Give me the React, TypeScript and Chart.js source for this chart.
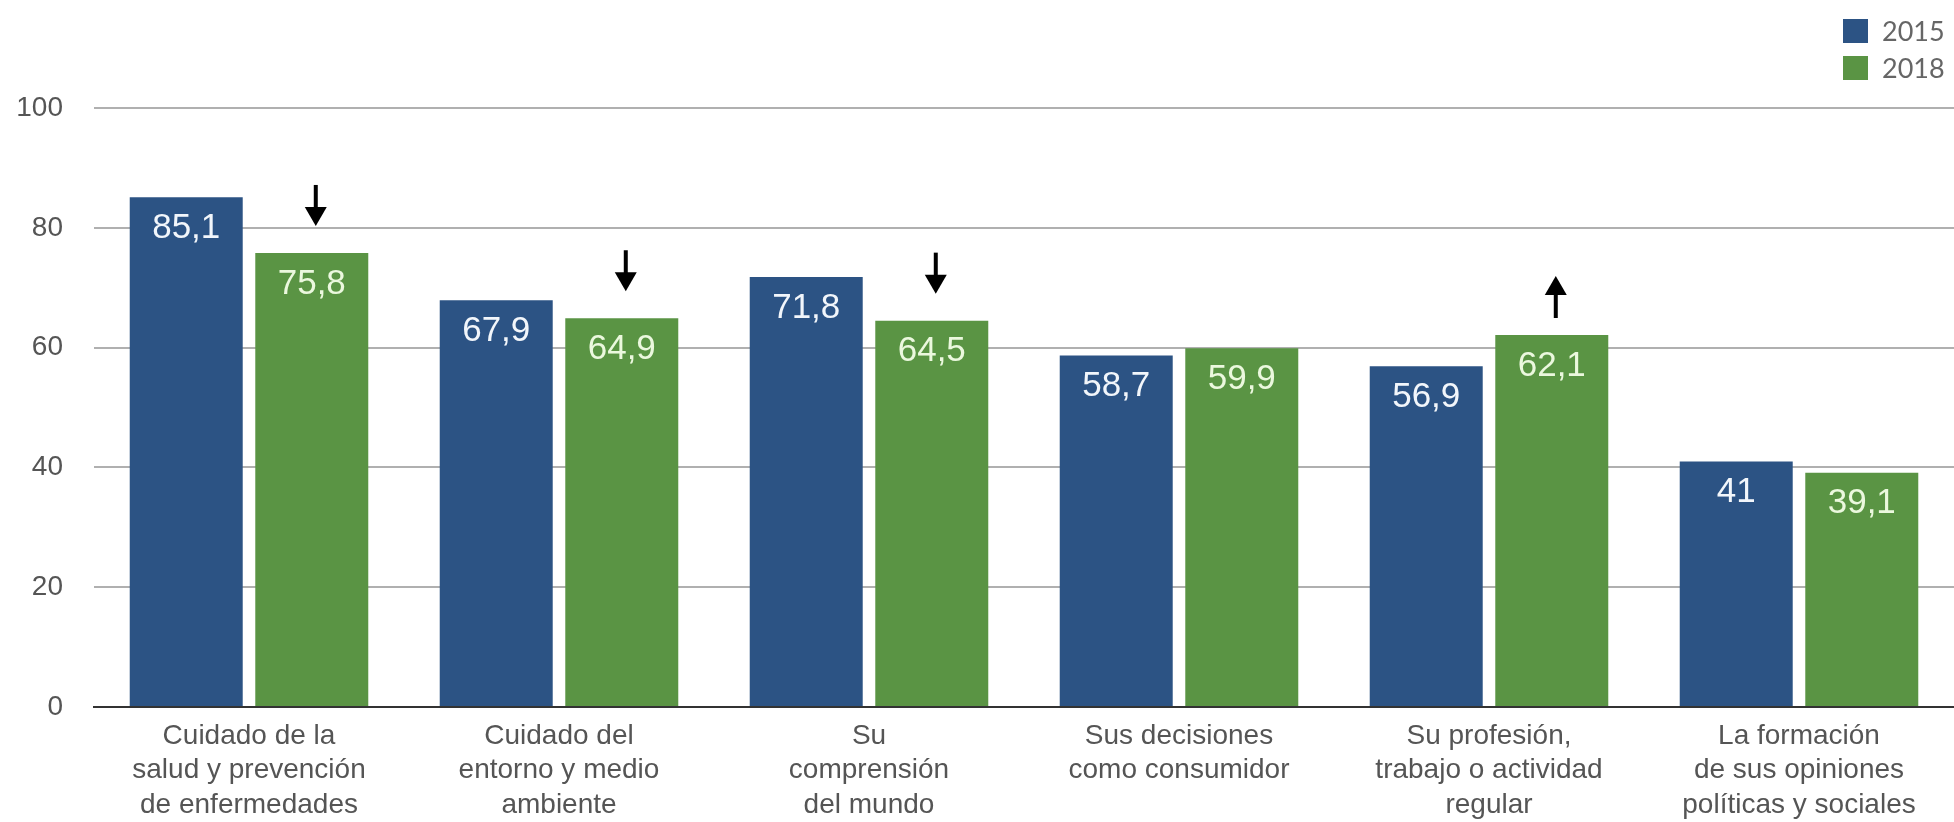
import React, { useEffect, useRef } from 'react';
import { Chart, registerables } from 'chart.js';

Chart.register(...registerables);

const categories: string[][] = [
  ['Cuidado de la', 'salud y prevención', 'de enfermedades'],
  ['Cuidado del', 'entorno y medio', 'ambiente'],
  ['Su', 'comprensión', 'del mundo'],
  ['Sus decisiones', 'como consumidor'],
  ['Su profesión,', 'trabajo o actividad', 'regular'],
  ['La formación', 'de sus opiniones', 'políticas y sociales'],
];
const seriesNames = ['2015', '2018'];
const values2015 = [85.1, 67.9, 71.8, 58.7, 56.9, 41];
const values2018 = [75.8, 64.9, 64.5, 59.9, 62.1, 39.1];
const trend2018: (string | null)[] = ['down', 'down', 'down', null, 'up', null];
const yTicks = [0, 20, 40, 60, 80, 100];

const BLUE = '#2c5384';
const GREEN = '#5a9444';
const colors = [BLUE, GREEN];
const labelColors = ['#f2f6fb', '#ebf8de'];

const fmt = (v: number) => String(v).replace('.', ',');

const valueLabelPlugin = {
  id: 'valueLabels',
  afterDatasetsDraw(chart: any) {
    const ctx = chart.ctx;
    ctx.save();
    ctx.font = '35px "Liberation Sans", Arial, sans-serif';
    ctx.textAlign = 'center';
    ctx.textBaseline = 'middle';
    chart.data.datasets.forEach((ds: any, di: number) => {
      const meta = chart.getDatasetMeta(di);
      meta.data.forEach((bar: any, i: number) => {
        ctx.fillStyle = labelColors[di];
        ctx.fillText(fmt(ds.data[i]), bar.x, bar.y + 31);
      });
    });
    // trend arrows on 2018 series
    const meta = chart.getDatasetMeta(1);
    ctx.fillStyle = '#000';
    ctx.strokeStyle = '#000';
    ctx.lineWidth = 4;
    meta.data.forEach((bar: any, i: number) => {
      const t = trend2018[i];
      if (!t) return;
      const x = bar.x + 4;
      const headW = 11;
      const headL = 19;
      if (t === 'down') {
        const tip = bar.y - 27;
        const top = tip - 41;
        ctx.beginPath();
        ctx.moveTo(x, top);
        ctx.lineTo(x, tip - headL + 2);
        ctx.stroke();
        ctx.beginPath();
        ctx.moveTo(x - headW, tip - headL);
        ctx.lineTo(x + headW, tip - headL);
        ctx.lineTo(x, tip);
        ctx.closePath();
        ctx.fill();
      } else {
        const bottom = bar.y - 17;
        const tip = bottom - 42;
        ctx.beginPath();
        ctx.moveTo(x, bottom);
        ctx.lineTo(x, tip + headL - 2);
        ctx.stroke();
        ctx.beginPath();
        ctx.moveTo(x - headW, tip + headL);
        ctx.lineTo(x + headW, tip + headL);
        ctx.lineTo(x, tip);
        ctx.closePath();
        ctx.fill();
      }
    });
    ctx.restore();
  },
};

export default function App() {
  const canvasRef = useRef<HTMLCanvasElement | null>(null);

  useEffect(() => {
    document.body.style.margin = '0';
    const canvas = canvasRef.current;
    if (!canvas) return;
    const chart = new Chart(canvas, {
      type: 'bar',
      data: {
        labels: categories,
        datasets: [
          { label: seriesNames[0], data: values2015, backgroundColor: colors[0] },
          { label: seriesNames[1], data: values2018, backgroundColor: colors[1] },
        ],
      },
      options: {
        responsive: false,
        animation: false,
        devicePixelRatio: 1,
        layout: { padding: { top: 108, left: 0, right: 0, bottom: 0 } },
        plugins: { legend: { display: false }, tooltip: { enabled: false } },
        datasets: { bar: { categoryPercentage: 0.81, barPercentage: 0.9 } },
        scales: {
          x: {
            grid: { display: false, drawTicks: false },
            border: { display: true, color: '#333', width: 2 },
            ticks: {
              color: '#555',
              padding: 12,
              font: { family: '"Liberation Sans", Arial, sans-serif', size: 28, lineHeight: 1.23 },
              maxRotation: 0,
              autoSkip: false,
            },
            afterFit: (s: any) => { s.height = 115; },
          },
          y: {
            min: 0,
            max: 100,
            afterBuildTicks: (s: any) => { s.ticks = yTicks.map((v) => ({ value: v })); },
            grid: {
              drawTicks: false,
              color: '#b0b0b0',
              lineWidth: 2,
            },
            border: { display: false },
            ticks: {
              color: '#555',
              padding: 31,
              font: { family: '"Liberation Sans", Arial, sans-serif', size: 28 },
            },
            afterFit: (s: any) => { s.width = 94; },
          },
        },
      },
      plugins: [valueLabelPlugin],
    });
    return () => chart.destroy();
  }, []);

  return (
    <div style={{ position: 'relative', width: 1954, height: 822, background: '#fff' }}>
      <canvas ref={canvasRef} width={1954} height={822} />
      <div style={{ position: 'absolute', left: 1843, top: 12 }}>
        {seriesNames.map((n, i) => (
          <div key={n} style={{ display: 'flex', alignItems: 'center', height: 37 }}>
            <div style={{ width: 25, height: 24, background: colors[i] }} />
            <span style={{ marginLeft: 14, font: '27px Lato, sans-serif', color: '#666' }}>{n}</span>
          </div>
        ))}
      </div>
    </div>
  );
}
